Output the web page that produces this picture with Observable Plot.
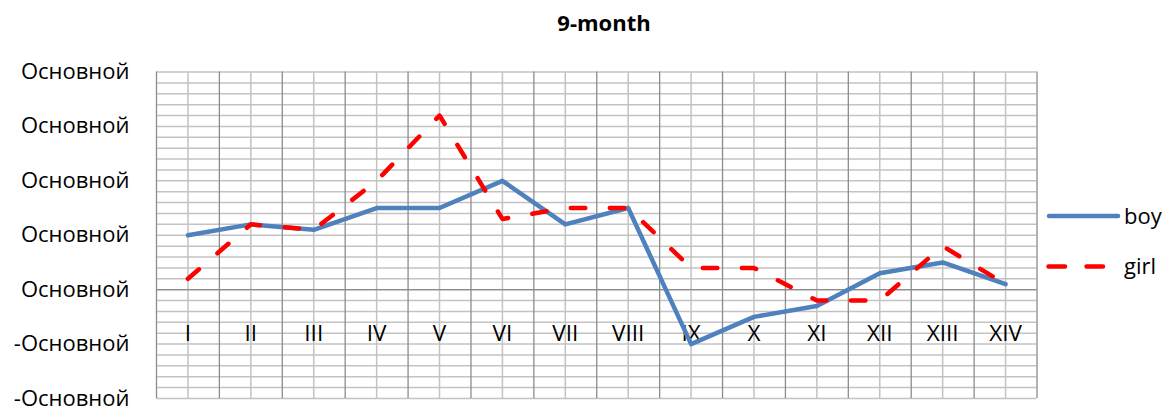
<!DOCTYPE html>
<html>
<head>
<meta charset="utf-8">
<script src="https://cdn.jsdelivr.net/npm/d3@7"></script>
<script src="https://cdn.jsdelivr.net/npm/@observablehq/plot@0.6"></script>
<style>
  body { margin: 0; background: #fff; font-family: "Open Sans", sans-serif; }
  #wrap { position: relative; width: 1170px; height: 412px; }
  #title { height: 44px; line-height: 44px; font-size: 22px; font-weight: bold; text-align: center; padding-left: 38px; box-sizing: border-box; width: 1170px; color: #000; }
  #legend { position: absolute; left: 1040px; top: 190px; }
</style>
</head>
<body>
<div id="wrap">
  <div id="title">9-month</div>
  <div id="chart"></div>
  <div id="legend"></div>
</div>
<script>
const categories = ["I","II","III","IV","V","VI","VII","VIII","IX","X","XI","XII","XIII","XIV"];
const boy  = [1.0, 1.2, 1.1, 1.5, 1.5, 2.0, 1.2, 1.5, -1.0, -0.5, -0.3, 0.3, 0.5, 0.1];
const girl = [0.2, 1.2, 1.1, 2.0, 3.2, 1.3, 1.5, 1.5, 0.4, 0.4, -0.2, -0.2, 0.8, 0.1];
const yTicks = [-2, -1, 0, 1, 2, 3, 4];
const seriesNames = ["boy", "girl"];
const seriesColors = ["#4f81bd", "#ff0000"];

const rows = [];
categories.forEach((c, i) => {
  rows.push({i, cat: c, value: boy[i], series: "boy"});
  rows.push({i, cat: c, value: girl[i], series: "girl"});
});

const n = categories.length;
const centers = d3.range(n);
const bounds = d3.range(n + 1).map(k => k - 0.5);
const minorY = d3.range(yTicks[0] * 5, yTicks[yTicks.length - 1] * 5 + 1).map(k => k / 5);

const chart = Plot.plot({
  width: 1170,
  height: 368,
  marginTop: 27.5,
  marginBottom: 14,
  marginLeft: 156,
  marginRight: 133.5,
  style: { fontFamily: "Open Sans, sans-serif", fontSize: "22px", color: "#000", background: "#fff" },
  x: { domain: [-0.5, n - 0.5] },
  y: { domain: [yTicks[0], yTicks[yTicks.length - 1]] },
  marks: [
    Plot.ruleY(minorY, { stroke: "#c3c3c3", strokeWidth: 1.5 }),
    Plot.ruleX(centers, { stroke: "#c3c3c3", strokeWidth: 1.5 }),
    Plot.ruleX(bounds, { stroke: "#8c8c8c", strokeWidth: 1.3 }),
    Plot.ruleY([0], { stroke: "#8c8c8c", strokeWidth: 1.3 }),
    Plot.axisY({
      ticks: yTicks,
      tickSize: 0,
      tickPadding: 27,
      tickFormat: d => d < 0 ? "-Основной" : "Основной",
      label: null,
      fontSize: 22
    }),
    Plot.axisX({
      anchor: "bottom",
      ticks: centers,
      tickSize: 0,
      tickPadding: 0,
      lineAnchor: "middle",
      dy: -65,
      tickFormat: i => categories[i],
      label: null,
      fontSize: 22.5
    }),
    Plot.line(rows.filter(d => d.series === "boy"), {
      x: "i", y: "value", stroke: seriesColors[0], strokeWidth: 4.5,
      strokeLinejoin: "round", strokeLinecap: "round"
    }),
    Plot.line(rows.filter(d => d.series === "girl"), {
      x: "i", y: "value", stroke: seriesColors[1], strokeWidth: 4.5,
      strokeDasharray: "14.5,24.5", strokeLinejoin: "round", strokeLinecap: "round"
    })
  ]
});
document.getElementById("chart").appendChild(chart);

// legend
const lg = d3.select("#legend").append("svg").attr("width", 130).attr("height", 100)
  .style("font-family", "Open Sans, sans-serif").style("font-size", "22px");
const items = [
  {name: seriesNames[0], color: seriesColors[0], dash: null, y: 26},
  {name: seriesNames[1], color: seriesColors[1], dash: "16.5,21.5", y: 76.5}
];
items.forEach(it => {
  const l = lg.append("line").attr("x1", 9).attr("x2", 78).attr("y1", it.y).attr("y2", it.y)
    .attr("stroke", it.color).attr("stroke-width", 4.5).attr("stroke-linecap", "round");
  if (it.dash) l.attr("stroke-dasharray", it.dash).attr("x1", 8.5).attr("x2", 64);
  lg.append("text").attr("x", 84).attr("y", it.y).attr("dy", "0.35em").text(it.name);
});
</script>
</body>
</html>
